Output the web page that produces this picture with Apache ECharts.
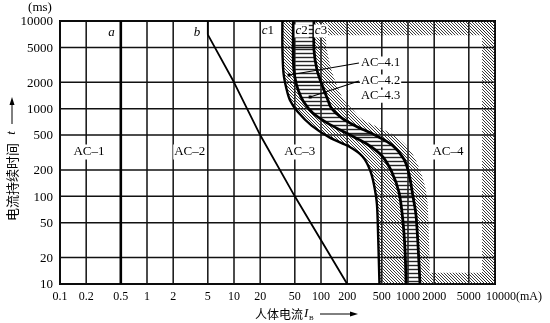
<!DOCTYPE html>
<html>
<head>
<meta charset="utf-8">
<script src="https://cdn.jsdelivr.net/npm/echarts@6/dist/echarts.min.js"></script>
<style>
  html, body { margin: 0; padding: 0; background: #fff; }
  #chart { width: 550px; height: 323px; }
</style>
</head>
<body>
<div id="chart"></div>
<script>
// Grid / tick values: body current (mA) and duration (ms)
const currentTicks = [0.1, 0.2, 0.5, 1, 2, 5, 10, 20, 50, 100, 200, 500, 1000, 2000, 5000, 10000];
const currentLabels = ['0.1', '0.2', '0.5', '1', '2', '5', '10', '20', '50', '100', '200', '500', '1000', '2000', '5000', '10000(mA)'];
const durationTicks = [10, 20, 50, 100, 200, 500, 1000, 2000, 5000, 10000];
const durationLabels = ['10', '20', '50', '100', '200', '500', '1000', '2000', '5000', '10000'];

// Zone boundaries, points are [current mA, duration ms]
const lineA = [[0.5, 10], [0.5, 10000]];
const lineB = [[5, 10000], [5, 7000], [10, 2000], [20, 500], [50, 100], [200, 10]];
const curveC1 = [[36, 10000], [36, 4900], [37, 2600], [40, 1700], [44, 1250], [54, 920], [78, 640], [125, 470],
  [210, 370], [300, 285], [366, 200], [407, 135], [440, 80], [455, 32], [470, 10]];
const curveC2 = [[48, 10000], [48, 3600], [50, 2300], [55, 1600], [63, 1200], [80, 900], [120, 680], [200, 520],
  [330, 400], [500, 290], [650, 190], [790, 110], [870, 55], [925, 24], [950, 10]];
const curveC3 = [[83, 10000], [83, 4700], [90, 2760], [103, 1860], [120, 1256], [133, 1000], [174, 780], [253, 630],
  [416, 500], [655, 385], [900, 265], [1030, 178], [1140, 100], [1236, 61], [1303, 28], [1374, 10]];
// outer edge of the shaded strip beyond c3
const curveC3Edge = [[114, 10000], [114, 6070], [120, 4090], [134, 2620], [157, 1720], [183, 1256], [227, 1000],
  [312, 740], [690, 500], [1050, 338], [1370, 200], [1650, 100], [1742, 32], [1790, 10]];

// shaded border of the AC-4 zone
const ac4TopMs = 6900;
const ac4RightMa = 7100;
const ac4BottomMs = 13.4;

// zone names
const zoneNames = ['AC–1', 'AC–2', 'AC–3', 'AC–4'];
const subZoneNames = ['AC–4.1', 'AC–4.2', 'AC–4.3'];

const SERIF = '"Liberation Serif", "Times New Roman", serif';
const CJK = '"Noto Sans CJK SC", sans-serif';
const SMOOTH = 0.3;

function makeHatch(kind) {
  const s = kind === 'diag' ? 3 : 4;
  const c = document.createElement('canvas');
  c.width = s; c.height = s;
  const g = c.getContext('2d');
  g.strokeStyle = '#262626';
  g.beginPath();
  if (kind === 'diag') {
    g.lineWidth = 0.9;
    g.moveTo(-1, -1); g.lineTo(s + 1, s + 1);
    g.moveTo(-1, s - 1); g.lineTo(1, s + 1);
    g.moveTo(s - 1, -1); g.lineTo(s + 1, 1);
  } else {
    g.lineWidth = 1.4;
    g.moveTo(0, 1.5); g.lineTo(s, 1.5);
  }
  g.stroke();
  return { image: c, repeat: 'repeat' };
}
const diagFill = makeHatch('diag');
const horizFill = makeHatch('horiz');

const xMin = currentTicks[0], xMax = currentTicks[currentTicks.length - 1];
const yMin = durationTicks[0], yMax = durationTicks[durationTicks.length - 1];

// shaded regions: the three bands follow the curves, the rest is the AC-4 border strip
const curveBands = [
  { a: curveC1, b: curveC2, fill: diagFill },
  { a: curveC2, b: curveC3, fill: horizFill },
  { a: curveC3, b: curveC3Edge, fill: diagFill }
];
const edgeTop = curveC3Edge[0][0];
const edgeBottom = curveC3Edge[curveC3Edge.length - 1][0];
const borderStrips = [
  [[edgeTop, ac4TopMs], [xMax, ac4TopMs], [xMax, yMax], [edgeTop, yMax]],
  [[ac4RightMa, yMin], [xMax, yMin], [xMax, yMax], [ac4RightMa, yMax]],
  [[edgeBottom, yMin], [xMax, yMin], [xMax, ac4BottomMs], [edgeBottom, ac4BottomMs]]
];

// smooth path through screen points (same scheme as a smoothed line)
function smoothPath(pts, ctxPath, first) {
  for (let i = 0; i < pts.length; i++) {
    const p = pts[i];
    if (i === 0) {
      if (first) ctxPath.push(['M', p]); else ctxPath.push(['L', p]);
      continue;
    }
    const p0 = pts[i - 1];
    const pPrev = pts[i - 2] || p0;
    const pNext = pts[i + 1] || p;
    const c1 = [p0[0] + (p[0] - pPrev[0]) * SMOOTH / 2, p0[1] + (p[1] - pPrev[1]) * SMOOTH / 2];
    const c2 = [p[0] - (pNext[0] - p0[0]) * SMOOTH / 2, p[1] - (pNext[1] - p0[1]) * SMOOTH / 2];
    ctxPath.push(['C', c1, c2, p]);
  }
}
function pathString(cmds) {
  return cmds.map(c => c[0] === 'C'
    ? 'C' + c[1].join(',') + ' ' + c[2].join(',') + ' ' + c[3].join(',')
    : c[0] + c[1].join(',')).join(' ') + ' Z';
}

function curveLine(name, data, width) {
  return {
    type: 'custom', name: name, z: 4, silent: true,
    data: [data[0]],
    renderItem: function (params, api) {
      const cmds = [];
      smoothPath(data.map(p => api.coord(p)), cmds, true);
      const d = pathString(cmds).replace(/ Z$/, '');
      return { type: 'path', shape: { pathData: d }, style: { fill: null, stroke: '#000', lineWidth: width } };
    }
  };
}

const chart = echarts.init(document.getElementById('chart'), null, { renderer: 'canvas' });

chart.setOption({
  animation: false,
  backgroundColor: '#fff',
  grid: { left: 60, top: 21, width: 435, height: 263, show: true, borderColor: '#000', borderWidth: 2, backgroundColor: 'transparent' },
  xAxis: {
    type: 'log', logBase: 10, min: xMin, max: xMax,
    axisLine: { show: false }, axisTick: { show: false }, axisLabel: { show: false }, splitLine: { show: false }
  },
  yAxis: {
    type: 'log', logBase: 10, min: yMin, max: yMax,
    axisLine: { show: false }, axisTick: { show: false }, axisLabel: { show: false }, splitLine: { show: false }
  },
  series: [
    {
      // vertical grid lines with current labels
      type: 'custom', name: 'currentGrid', z: 1, silent: true,
      data: currentTicks.map(v => [v, yMin]),
      renderItem: function (params, api) {
        const v = api.value(0);
        const p0 = api.coord([v, yMin]);
        const p1 = api.coord([v, yMax]);
        const last = params.dataIndex === currentTicks.length - 1;
        return {
          type: 'group', children: [
            { type: 'line', shape: { x1: p0[0], y1: p0[1], x2: p1[0], y2: p1[1] }, style: { stroke: '#111', lineWidth: 1.5 } },
            { type: 'text', x: p0[0] + (last ? -9 : 0), y: p0[1] + 13,
              style: { text: currentLabels[params.dataIndex], align: last ? 'left' : 'center', verticalAlign: 'middle',
                       font: '12px ' + SERIF, fill: '#000' } }
          ]
        };
      }
    },
    {
      // horizontal grid lines with duration labels
      type: 'custom', name: 'durationGrid', z: 1, silent: true,
      data: durationTicks.map(v => [xMin, v]),
      renderItem: function (params, api) {
        const v = api.value(1);
        const p0 = api.coord([xMin, v]);
        const p1 = api.coord([xMax, v]);
        return {
          type: 'group', children: [
            { type: 'line', shape: { x1: p0[0], y1: p0[1], x2: p1[0], y2: p1[1] }, style: { stroke: '#111', lineWidth: 1.5 } },
            { type: 'text', x: p0[0] - 7, y: p0[1] + 1,
              style: { text: durationLabels[params.dataIndex], align: 'right', verticalAlign: 'middle',
                       font: '13px ' + SERIF, fill: '#000' } }
          ]
        };
      }
    },
    {
      // hatched bands between the c curves
      type: 'custom', name: 'bands', z: 2, silent: true, clip: true,
      data: curveBands.map(b => b.a[0]),
      renderItem: function (params, api) {
        const band = curveBands[params.dataIndex];
        const cmds = [];
        smoothPath(band.a.map(p => api.coord(p)), cmds, true);
        smoothPath(band.b.slice().reverse().map(p => api.coord(p)), cmds, false);
        return { type: 'path', shape: { pathData: pathString(cmds) }, style: { fill: band.fill, stroke: null } };
      }
    },
    {
      // hatched border strip of the AC-4 zone
      type: 'custom', name: 'ac4Border', z: 2, silent: true, clip: true,
      data: borderStrips.map(s => s[0]),
      renderItem: function (params, api) {
        return { type: 'polygon', shape: { points: borderStrips[params.dataIndex].map(p => api.coord(p)) },
                 style: { fill: diagFill, stroke: null } };
      }
    },
    {
      type: 'line', name: 'a', data: lineA, z: 4, silent: true, symbol: 'none',
      lineStyle: { color: '#000', width: 2.6 }
    },
    {
      type: 'line', name: 'b', data: lineB, z: 4, silent: true, symbol: 'none',
      lineStyle: { color: '#000', width: 1.8 }
    },
    curveLine('c1', curveC1, 2.4),
    curveLine('c2', curveC2, 2.8),
    curveLine('c3', curveC3, 2.8),
    {
      // zone names
      type: 'custom', name: 'zones', z: 6, silent: true,
      data: [[0.215, 320], [3.1, 320], [57, 320], [2880, 320]],
      renderItem: function (params, api) {
        const p = api.coord([api.value(0), api.value(1)]);
        return { type: 'text', x: p[0], y: p[1],
          style: { text: zoneNames[params.dataIndex], align: 'center', verticalAlign: 'middle', font: '13px ' + SERIF,
                   fill: '#000', backgroundColor: '#fff', padding: [1, 1] } };
      }
    },
    {
      // curve names along the top edge
      type: 'custom', name: 'curveNames', z: 6, silent: true,
      data: [[0.39, 7400], [3.75, 7300], [24.5, 7700], [60, 7700], [100, 7700]],
      renderItem: function (params, api) {
        const names = ['{i|a}', '{i|b}', '{i|c}{n|1}', '{i|c}{n|2}', '{i|c}{n|3}'];
        const p = api.coord([api.value(0), api.value(1)]);
        const bg = params.dataIndex >= 3 ? '#fff' : null;
        return { type: 'text', x: p[0], y: p[1],
          style: { text: names[params.dataIndex], align: 'center', verticalAlign: 'middle', fill: '#000',
                   backgroundColor: bg, padding: [0, 1],
                   rich: { i: { font: 'italic 13px ' + SERIF, fill: '#000' }, n: { font: '13px ' + SERIF, fill: '#000' } } } };
      }
    },
    {
      // AC-4 sub-zone names, two with leader lines
      type: 'custom', name: 'subZones', z: 7, silent: true,
      data: [[273, 3320], [273, 2070], [273, 1390]],
      renderItem: function (params, api) {
        const i = params.dataIndex;
        const anchor = api.coord([api.value(0), api.value(1)]);
        const targets = [[43, 2420], [75, 1360]];
        const children = [
          { type: 'text', x: anchor[0] + 1, y: anchor[1],
            style: { text: subZoneNames[i], align: 'left', verticalAlign: 'middle', font: '12.5px ' + SERIF,
                     fill: '#000', backgroundColor: '#fff', padding: [0, 1] } }
        ];
        if (i < targets.length) {
          const t = api.coord(targets[i]);
          children.push({ type: 'line', shape: { x1: anchor[0], y1: anchor[1], x2: t[0], y2: t[1] }, style: { stroke: '#000', lineWidth: 1.1 } });
          children.push({ type: 'rect', shape: { x: t[0] - 1.5, y: t[1] - 1.5, width: 3, height: 3 }, style: { fill: '#000' } });
        }
        return { type: 'group', children: children };
      }
    }
  ],
  graphic: [
    { type: 'text', x: 40, y: 8, style: { text: '(ms)', align: 'center', verticalAlign: 'middle', font: '13px ' + SERIF, fill: '#000' } },
    // horizontal axis title
    { type: 'text', x: 255, y: 314, style: { text: '人体电流', align: 'left', verticalAlign: 'middle', font: '12px ' + CJK, fill: '#000' } },
    { type: 'text', x: 304, y: 314, style: { text: 'I', align: 'left', verticalAlign: 'middle', font: 'italic 13px ' + SERIF, fill: '#000' } },
    { type: 'text', x: 309, y: 318, style: { text: 'B', align: 'left', verticalAlign: 'middle', font: '7px ' + SERIF, fill: '#000' } },
    { type: 'line', shape: { x1: 320, y1: 314, x2: 352, y2: 314 }, style: { stroke: '#000', lineWidth: 1 } },
    { type: 'polygon', shape: { points: [[358, 314], [350, 311.5], [350, 316.5]] }, style: { fill: '#000' } },
    // vertical axis title
    { type: 'text', x: 12, y: 182, rotation: Math.PI / 2,
      style: { text: '电流持续时间', align: 'center', verticalAlign: 'middle', font: '13px ' + CJK, fill: '#000' } },
    { type: 'text', x: 12, y: 133, rotation: Math.PI / 2,
      style: { text: 't', align: 'center', verticalAlign: 'middle', font: 'italic 13px ' + SERIF, fill: '#000' } },
    { type: 'line', shape: { x1: 12, y1: 124, x2: 12, y2: 103 }, style: { stroke: '#000', lineWidth: 1 } },
    { type: 'polygon', shape: { points: [[12, 97], [9.5, 105], [14.5, 105]] }, style: { fill: '#000' } }
  ]
});
</script>
</body>
</html>
